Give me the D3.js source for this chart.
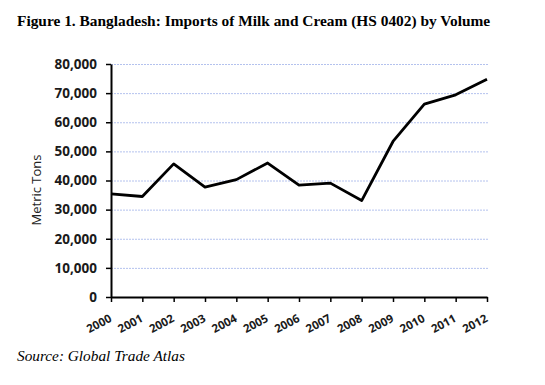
<!DOCTYPE html>
<html>
<head>
<meta charset="utf-8">
<script src="https://cdn.jsdelivr.net/npm/d3@7"></script>
<style>
  body { margin: 0; background: #fff; }
  svg { display: block; }
</style>
</head>
<body>
<svg id="chart" width="545" height="385"></svg>
<script>
let years = ["2000","2001","2002","2003","2004","2005","2006","2007","2008","2009","2010","2011","2012"];
let imports = [35400, 34500, 45700, 37700, 40300, 46000, 38400, 39100, 33100, 53400, 66200, 69400, 74800];
let yTicks = [0, 10000, 20000, 30000, 40000, 50000, 60000, 70000, 80000];

const svg = d3.select("#chart");
const plotLeft = 111, plotRight = 489, plotTop = 64, plotBottom = 297;

let x = d3.scalePoint()
    .domain(years)
    .range([plotLeft, 487]);

let y = d3.scaleLinear()
    .domain([0, 80000])
    .range([plotBottom, plotTop]);

// title
svg.append("text")
    .attr("x", 17)
    .attr("y", 26)
    .style("font-family", "'Liberation Serif', 'Times New Roman', serif")
    .style("font-weight", "bold")
    .style("font-size", "15.4px")
    .text("Figure 1. Bangladesh: Imports of Milk and Cream (HS 0402) by Volume");

// gridlines
svg.append("g")
    .selectAll("line")
    .data(yTicks.filter(d => d > 0))
    .join("line")
    .attr("x1", plotLeft)
    .attr("x2", plotRight)
    .attr("y1", d => y(d) + 0.5)
    .attr("y2", d => y(d) + 0.5)
    .attr("stroke", "#b4c2ee")
    .attr("stroke-width", 1)
    .attr("stroke-dasharray", "2,1");

// y axis
let yAxis = svg.append("g")
    .attr("transform", `translate(${plotLeft},0)`)
    .call(d3.axisLeft(y).tickValues(yTicks).tickFormat(d3.format(",")).tickSize(5).tickSizeOuter(0));
yAxis.select(".domain").attr("stroke", "#000").attr("stroke-width", 2);
yAxis.selectAll(".tick line").attr("stroke", "#000").attr("stroke-width", 1.5);
yAxis.selectAll(".tick text")
    .attr("x", -14)
    .style("font-family", "'Open Sans', 'Liberation Sans', sans-serif")
    .style("font-weight", "bold")
    .style("font-size", "13.5px")
    .attr("fill", "#1a1a1a");

// x axis
let xAxis = svg.append("g")
    .attr("transform", `translate(0,${plotBottom})`)
    .call(d3.axisBottom(x).tickSize(5).tickSizeOuter(0));
xAxis.select(".domain").attr("stroke", "#000").attr("stroke-width", 2);
xAxis.selectAll(".tick line").attr("stroke", "#000").attr("stroke-width", 1.5);
xAxis.selectAll(".tick text")
    .attr("text-anchor", "end")
    .attr("x", 0)
    .attr("y", 0)
    .attr("dy", 0)
    .attr("transform", "translate(1,24) rotate(-28)")
    .style("font-family", "'Open Sans', 'Liberation Sans', sans-serif")
    .style("font-weight", "bold")
    .style("font-size", "11.5px")
    .attr("fill", "#1a1a1a");

// y label
svg.append("text")
    .attr("transform", `translate(41,190) rotate(-90)`)
    .attr("text-anchor", "middle")
    .style("font-family", "'Open Sans', 'Liberation Sans', sans-serif")
    .style("font-size", "13px")
    .attr("fill", "#222")
    .text("Metric Tons");

// line
let line = d3.line()
    .x((d, i) => x(years[i]))
    .y(d => y(d));

svg.append("path")
    .datum(imports)
    .attr("d", line)
    .attr("fill", "none")
    .attr("stroke", "#000")
    .attr("stroke-width", 2.8)
    .attr("stroke-linejoin", "round");

// source
svg.append("text")
    .attr("x", 17)
    .attr("y", 361)
    .style("font-family", "'Liberation Serif', 'Times New Roman', serif")
    .style("font-style", "italic")
    .style("font-size", "15.3px")
    .text("Source: Global Trade Atlas");
</script>
</body>
</html>
